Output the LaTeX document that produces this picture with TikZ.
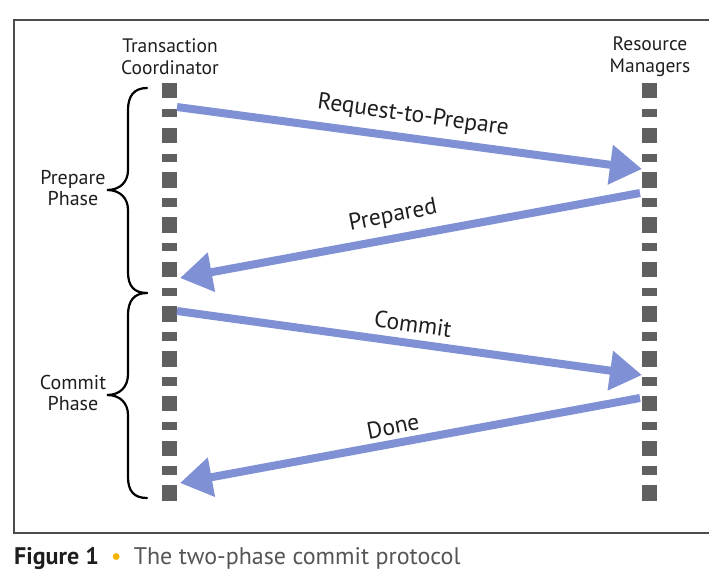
\documentclass[tikz,border=0pt]{standalone}
\usepackage{fontspec}
\setmainfont{PT Sans}
\usetikzlibrary{arrows.meta}
\definecolor{msgblue}{RGB}{128,144,212}
\definecolor{lifegray}{RGB}{96,96,96}
\definecolor{txtdark}{RGB}{30,30,30}
\definecolor{capgray}{RGB}{85,85,85}
\definecolor{bulletgold}{RGB}{245,180,0}
\tikzset{
  msg/.style={draw=msgblue, line width=8pt,
    -{Triangle[length=32pt,width=38pt,fill=msgblue]}},
  msglabel/.style={text=txtdark, font=\fontsize{23.5}{24}\selectfont, inner sep=0pt},
  head/.style={text=txtdark, font=\fontsize{19.5}{22}\selectfont, align=center, inner sep=0pt},
  phase/.style={text=txtdark, font=\fontsize{20}{21.5}\selectfont, align=center, inner sep=0pt},
  tall/.style={fill=lifegray, minimum width=15pt, minimum height=15.5pt, inner sep=0pt, draw=none},
  short/.style={fill=lifegray, minimum width=15pt, minimum height=8.5pt, inner sep=0pt, draw=none},
  brace/.style={draw=black, line width=2.2pt, line cap=round},
  frame/.style={draw=black!70, line width=2pt}
}
\begin{document}
\begin{tikzpicture}[x=1pt,y=-1pt]
  \useasboundingbox (0,0) rectangle (709,571);
  % frame (right side runs off the page)
  \draw[frame] (720,20) -- (14,20) -- (14,533) -- (720,533);

  % lifeline headings
  \node[head] (tc) at (170,57) {Transaction\\Coordinator};
  \node[head] (rm) at (650,57) {Resource\\Managers};

  % dashed lifelines: alternating tall and short squares
  \foreach \i in {0,...,18}{
    \pgfmathsetmacro{\yy}{90.7+22.35*\i}
    \pgfmathtruncatemacro{\odd}{mod(\i,2)}
    \ifnum\odd=0
      \node[tall] (l\i) at (169.5,\yy) {};
      \node[tall] (r\i) at (649.5,\yy) {};
    \else
      \node[short] (l\i) at (169.5,\yy) {};
      \node[short] (r\i) at (649.5,\yy) {};
    \fi
  }

  % message end points on the lifelines
  \coordinate (a1s) at (177,107);  \coordinate (a1e) at (642,169);
  \coordinate (a2s) at (640,193);  \coordinate (a2e) at (180,278);
  \coordinate (a3s) at (177,311);  \coordinate (a3e) at (642,375);
  \coordinate (a4s) at (640,398);  \coordinate (a4e) at (180,483);

  % messages
  \draw[msg] (a1s) -- (a1e);
  \draw[msg] (a2s) -- (a2e);
  \draw[msg] (a3s) -- (a3e);
  \draw[msg] (a4s) -- (a4e);

  \node[msglabel, rotate=-8] (m1) at (413,116) {Request-to-Prepare};
  \node[msglabel, rotate=11] (m2) at (393,216) {Prepared};
  \node[msglabel, rotate=-8] (m3) at (413,324) {Commit};
  \node[msglabel, rotate=11] (m4) at (393,426) {Done};

  % phase braces
  \draw[brace] (147,88) .. controls (134,88) and (128,96) .. (128,110)
    -- (128,170) .. controls (128,182) and (120,190) .. (107,190)
    .. controls (120,190) and (128,198) .. (128,210)
    -- (128,272) .. controls (128,286) and (134,293) .. (147,293);
  \draw[brace] (147,293) .. controls (134,293) and (128,301) .. (128,315)
    -- (128,374) .. controls (128,387) and (120,395) .. (107,395)
    .. controls (120,395) and (128,403) .. (128,415)
    -- (128,477) .. controls (128,491) and (134,498) .. (147,498);
  \node[phase] (pp) at (73,188) {Prepare\\Phase};
  \node[phase] (cp) at (73,393) {Commit\\Phase};

  % caption
  \node[anchor=base west, inner sep=0pt, font=\fontsize{24}{26}\selectfont] (cap) at (14,564)
    {\textcolor{txtdark}{\bfseries Figure 1}\enspace\textcolor{bulletgold}{\textbullet}\enspace\textcolor{capgray}{The two-phase commit protocol}};
\end{tikzpicture}
\end{document}
